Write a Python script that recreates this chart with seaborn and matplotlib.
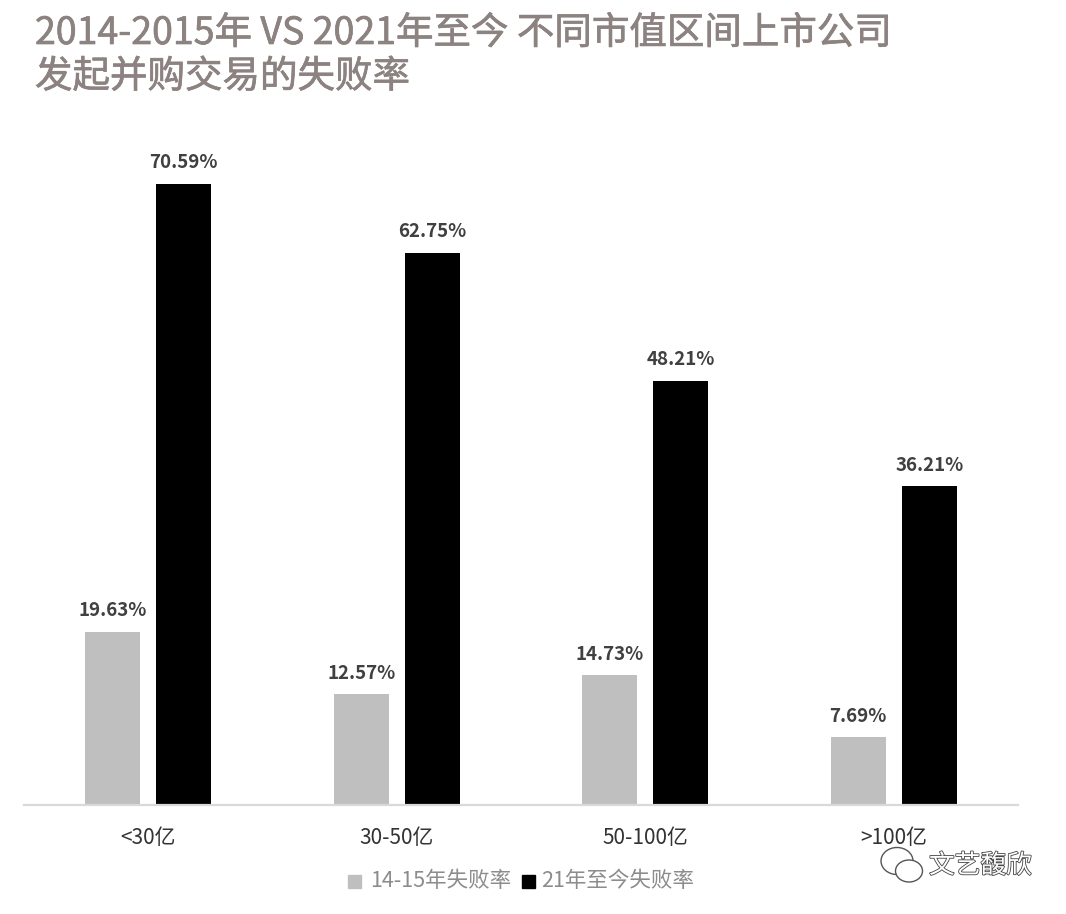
import matplotlib
matplotlib.use('Agg')
import matplotlib.pyplot as plt
import matplotlib.patheffects as pe
from matplotlib.patches import Ellipse, Rectangle
import seaborn as sns
import pandas as pd

categories = ['<30亿', '30-50亿', '50-100亿', '>100亿']
rate_1415 = [19.63, 12.57, 14.73, 7.69]
rate_21 = [70.59, 62.75, 48.21, 36.21]
series_names = ['14-15年失败率', '21年至今失败率']

title_text = '2014-2015年 VS 2021年至今 不同市值区间上市公司\n发起并购交易的失败率'

sns.set_theme(style='white')
plt.rcParams['font.family'] = ['Noto Sans CJK SC', 'DejaVu Sans']

df = pd.DataFrame({
    'cat': categories * 2,
    'series': [series_names[0]] * 4 + [series_names[1]] * 4,
    'rate': rate_1415 + rate_21,
})

fig = plt.figure(figsize=(10.66, 9.14), dpi=100)
ax = fig.add_axes([24 / 1066, 109 / 914, 994 / 1066, 704 / 914])

sns.barplot(data=df, x='cat', y='rate', hue='series', ax=ax,
            palette=['#bfbfbf', '#000000'], width=0.571, gap=0.225,
            saturation=1, linewidth=0, legend=False)

ax.set_xlim(-0.5, 3.5)
ax.set_ylim(0, 80)
ax.set_xlabel('')
ax.set_ylabel('')
ax.set_yticks([])
ax.tick_params(axis='x', length=0, pad=16, labelsize=15, labelcolor='#333333')
for side in ['top', 'left', 'right']:
    ax.spines[side].set_visible(False)
ax.spines['bottom'].set_color('#d9d9d9')
ax.spines['bottom'].set_linewidth(1.6)

# 柱顶数值
for container in ax.containers:
    ax.bar_label(container, fmt='%.2f%%', padding=8.5, fontsize=13.5,
                 fontweight='bold', color='#404040')

# 标题
fig.text(35 / 1066, 1 - 14 / 914, title_text, fontsize=27, color='#8c8280',
         ha='left', va='top', linespacing=1.15, fontweight='medium',
         path_effects=[pe.withStroke(linewidth=0.5, foreground='#8c8280')])

# 图例
fig.add_artist(Rectangle((348 / 1066, 1 - 888 / 914), 13 / 1066, 13 / 914,
                         transform=fig.transFigure, color='#bfbfbf'))
fig.text(370 / 1066, 1 - 881 / 914, series_names[0], fontsize=15.5, color='#8c8c8c',
         ha='left', va='center', fontweight='light')
fig.add_artist(Rectangle((522 / 1066, 1 - 888 / 914), 13 / 1066, 13 / 914,
                         transform=fig.transFigure, color='#000000'))
fig.text(541 / 1066, 1 - 881 / 914, series_names[1], fontsize=15.5, color='#8c8c8c',
         ha='left', va='center', fontweight='light')

# 水印
for cx, cy, w, h in [(897, 861, 32, 27), (909, 871, 27, 22)]:
    fig.add_artist(Ellipse((cx / 1066, 1 - cy / 914), w / 1066, h / 914,
                           transform=fig.transFigure, facecolor='white',
                           edgecolor='#555555', linewidth=1))
fig.text(929 / 1066, 1 - 866 / 914, '文艺馥欣', fontsize=18.5, color='white',
         ha='left', va='center', fontweight='light',
         path_effects=[pe.withStroke(linewidth=1.2, foreground='#444444')])

fig.savefig('out.png', dpi=100, facecolor='white')
